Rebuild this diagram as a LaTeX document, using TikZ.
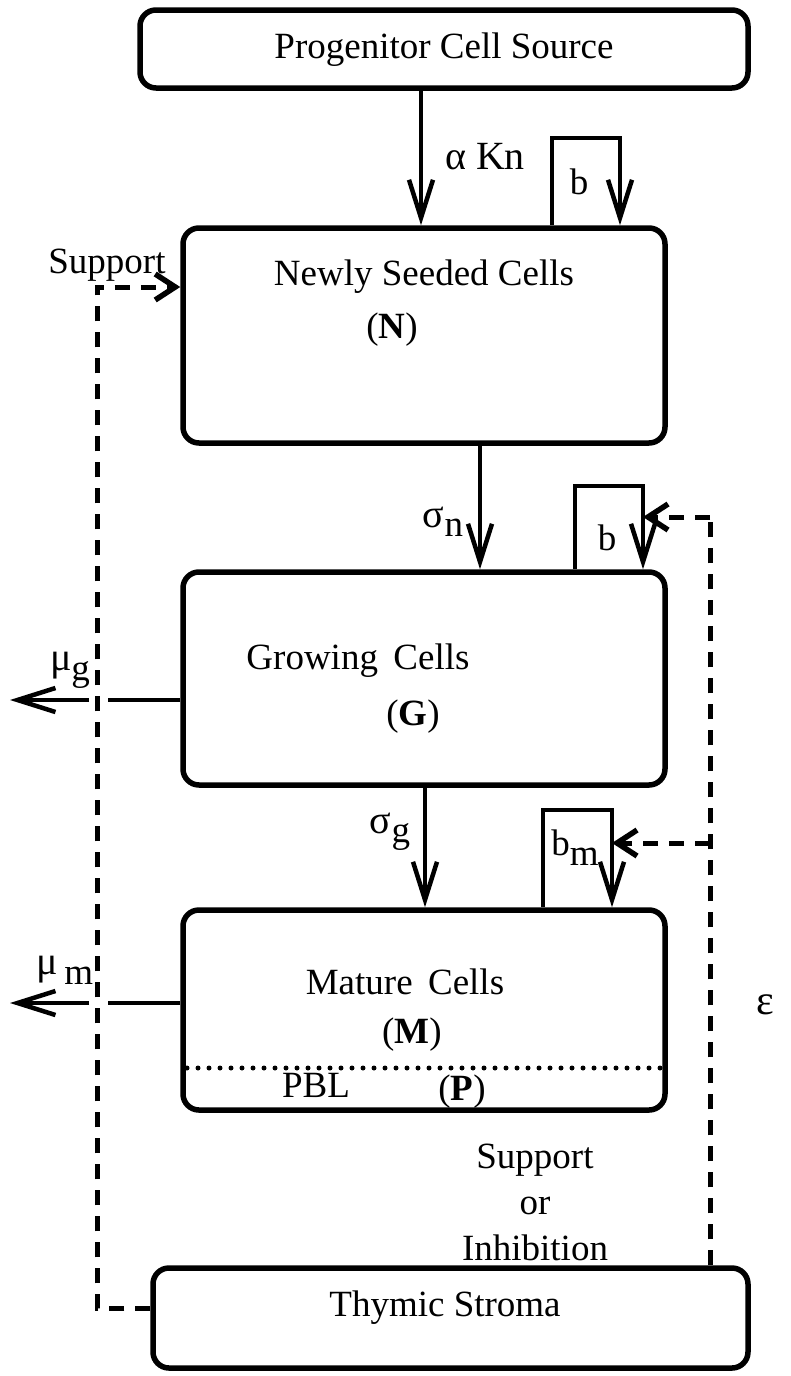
\documentclass[tikz,border=0pt]{standalone}
\usepackage{fontspec}
\setmainfont{Liberation Serif}
\usetikzlibrary{arrows.meta}
\begin{document}
\begin{tikzpicture}[x=1pt,y=-1pt,
  box/.style={draw,line width=5.5pt,rounded corners=16pt,inner sep=0pt},
  arr/.style={line width=4pt,-{Straight Barb[length=38pt,width=24pt,line width=4.5pt]}},
  ln/.style={line width=4pt},
  dsh/.style={line width=5pt,dash pattern=on 15pt off 11pt},
  darr/.style={line width=5pt,dash pattern=on 15pt off 11pt,-{Straight Barb[length=20pt,width=26pt,line width=5.5pt]}},
  txt/.style={inner sep=0pt,font=\fontsize{37}{46}\selectfont}]
\useasboundingbox (0,0) rectangle (790,1376);
% boxes
\node[box,minimum width=608pt,minimum height=78pt] (P) at (444,49) {};
\node[box,minimum width=482pt,minimum height=215pt] (N) at (424,335.5) {};
\node[box,minimum width=482pt,minimum height=213pt] (G) at (424,678.5) {};
\node[box,minimum width=482pt,minimum height=200pt] (M) at (424,1010) {};
\node[box,minimum width=595pt,minimum height=100pt] (S) at (450.5,1318) {};
% box texts
\node[txt] (tP) at (444,50) {Progenitor Cell Source};
\node[txt] (tN1) at (424,277) {Newly Seeded Cells};
\node[txt] (tN2) at (392,330) {(\textbf{N})};
\node[txt] (tG1) at (358,661) {Growing\, Cells};
\node[txt] (tG2) at (413,717) {(\textbf{G})};
\node[txt] (tM1) at (405,982) {Mature\, Cells};
\node[txt] (tM2) at (412,1035) {(\textbf{M})};
\node[txt] (tPBL) at (316,1085) {PBL};
\node[txt] (tPP) at (462,1092) {(\textbf{P})};
\node[txt] (tS) at (445,1308) {Thymic Stroma};
% coordinates
\coordinate (xa) at (421,0);
\coordinate (xs) at (480,0);
\coordinate (xg) at (425,0);
\coordinate (b1l) at (552,138);
\coordinate (b1r) at (620,138);
\coordinate (b2l) at (575,486);
\coordinate (b2r) at (643,486);
\coordinate (b3l) at (543,810);
\coordinate (b3r) at (612,810);
% flows
\draw[arr] (xa |- P.south) -- (xa |- N.north);
\node[txt] (lak) at (485,157) {\fontsize{40}{46}\selectfont α Kn};
\draw[arr] (b1l |- N.north) -- (b1l) -- (b1r) -- (b1r |- N.north);
\node[txt] (lb1) at (579,182) {b};
\draw[arr] (xs |- N.south) -- (xs |- G.north);
\node[txt] (lsn) at (443,522) {\fontsize{40}{46}\selectfont σ\raisebox{-9pt}{\fontsize{37}{46}\selectfont n}};
\draw[arr] (b2l |- G.north) -- (b2l) -- (b2r) -- (b2r |- G.north);
\node[txt] (lb2) at (607,538) {b};
\draw[arr] (xg |- G.south) -- (xg |- M.north);
\node[txt] (lsg) at (390,832) {\fontsize{40}{46}\selectfont σ\raisebox{-9pt}{\fontsize{37}{46}\selectfont g}};
\draw[arr] (b3l |- M.north) -- (b3l) -- (b3r) -- (b3r |- M.north);
\node[txt] (lb3) at (575,848) {b\raisebox{-10pt}{m}};
% outflows
\coordinate (og) at (10,700);
\coordinate (om) at (10,1003);
\draw[ln] (G.west |- og) -- (108,700);
\draw[arr] (89,700) -- (og);
\node[txt] (lmg) at (70,670) {\fontsize{40}{46}\selectfont μ\raisebox{-10pt}{\fontsize{37}{46}\selectfont g}};
\draw[ln] (M.west |- om) -- (108,1003);
\draw[arr] (89,1003) -- (om);
\node[txt] (lmm) at (65,970) {\fontsize{40}{46}\selectfont μ\raisebox{-10pt}{\fontsize{37}{46}\selectfont\,m}};
% dotted divider
\draw[line width=5pt,dash pattern=on 0pt off 11pt,line cap=round] (187,1068) -- (663,1068);
% feedback
\coordinate (fl) at (97,1308);
\coordinate (fr) at (710,517);
\draw[darr] (S.west |- fl) -- (fl) -- (97,287) -- (N.west |- 0,287);
\node[txt] (lsup) at (107,265) {Support};
\draw[dsh] (fr |- S.north) -- (fr);
\draw[darr] (fr) -- (643,517);
\draw[darr] (710,843) -- (612,843);
\node[txt,align=center,font=\fontsize{37}{46}\selectfont] (lsi) at (535,1202) {Support\\or\\Inhibition};
\node[txt] (leps) at (765,1005) {\fontsize{42}{46}\selectfont ε};
\end{tikzpicture}
\end{document}
